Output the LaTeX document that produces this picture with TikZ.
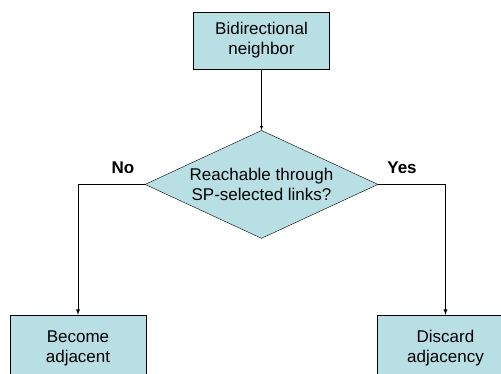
\documentclass[tikz,border=0pt]{standalone}
\usepackage{fontspec}
\setmainfont{Liberation Sans}
\usetikzlibrary{positioning,shapes,arrows}
\definecolor{boxfill}{RGB}{184,223,227}
\begin{document}
\begin{tikzpicture}[
		  x=1pt,y=-1pt,
		  font=\fontsize{17}{20}\selectfont,
		  node distance=61pt and 0pt,
		  boxnode/.style={draw,fill=boxfill,minimum width=136pt,minimum height=57pt,align=center,inner sep=0pt},
		  decnode/.style={draw,fill=boxfill,diamond,aspect=2.16,minimum width=233pt,minimum height=108pt,align=center,inner sep=0pt}
		]
		\useasboundingbox (0,0) rectangle (501,374);
		\node[boxnode] (BN) at (261.5,40.5) {Bidirectional\\neighbor};
		\node[decnode,below=of BN] (RSP) {Reachable through\\SP-selected links?};
		\node[boxnode,minimum height=66pt] (BA) at (78,348) {Become\\adjacent};
		\node[boxnode,minimum height=66pt] (DA) at (445.5,348) {Discard\\adjacency};
		\node[font=\fontsize{17}{20}\selectfont\bfseries] (No) at (123,168) {No};
		\node[font=\fontsize{17}{20}\selectfont\bfseries] (Yes) at (402,168) {Yes};
		\path (BN) edge[-latex] (RSP);
		\draw[-latex,line width=0.9pt] (RSP.west) -| (BA.north);
		\draw[-latex,line width=0.9pt] (RSP.east) -| (DA.north);
		\end{tikzpicture}
\end{document}
